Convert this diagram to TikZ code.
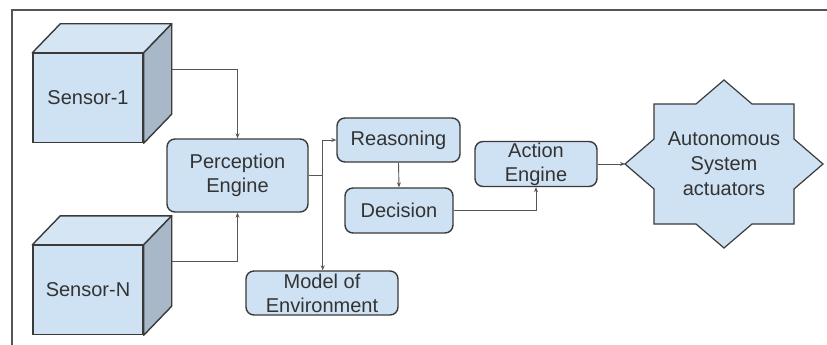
\documentclass[tikz,border=0pt]{standalone}
\usepackage{fontspec}
\setmainfont{Liberation Sans}
\usetikzlibrary{calc,arrows.meta}
\definecolor{boxfill}{HTML}{CFE2F3}
\definecolor{topfill}{HTML}{D6E5F3}
\definecolor{sidefill}{HTML}{A9B8C8}
\definecolor{edge}{HTML}{3A3A3A}
\definecolor{txt}{HTML}{333333}
\definecolor{wire}{HTML}{555555}
\tikzset{
  box/.style={draw=edge, line width=1.4pt, fill=boxfill, rounded corners=8pt,
    text=txt, align=center, inner sep=0pt, font=\fontsize{20}{24}\selectfont},
  front/.style={draw=edge, line width=1.4pt, fill=boxfill, text=txt,
    minimum width=110pt, minimum height=89pt, inner sep=0pt,
    font=\fontsize{20}{24}\selectfont},
  face/.style={draw=edge, line width=1.4pt, line join=round},
  conn/.style={draw=wire, line width=0.9pt, -{Stealth[length=5pt,width=4pt]}},
  plain/.style={draw=wire, line width=0.9pt}
}
\begin{document}
\begin{tikzpicture}[x=1pt,y=-1pt]
\useasboundingbox (0,0) rectangle (827,345);
\fill[white] (0,0) rectangle (827,345);
% frame
\draw[draw=wire, line width=1.2pt] (12,345) -- (12,10) -- (827,10);

% cubes
\node[front] (s1) at (88,98) {Sensor-1};
\node[front] (sN) at (88,290) {Sensor-N};
\foreach \c in {s1,sN}{
  \draw[face, fill=topfill] (\c.north west) -- ++(28,-29) -- ($(\c.north east)+(28,-29)$) -- (\c.north east) -- cycle;
  \draw[face, fill=sidefill] (\c.north east) -- ++(28,-29) -- ($(\c.south east)+(28,-29)$) -- (\c.south east) -- cycle;
}

% boxes
\node[box, minimum width=141pt, minimum height=73pt] (pe) at (237.5,175.5) {Perception\\Engine};
\node[box, minimum width=123pt, minimum height=44pt] (re) at (398.5,140) {Reasoning};
\node[box, minimum width=108pt, minimum height=45pt] (de) at (399,210.5) {Decision};
\node[box, minimum width=152pt, minimum height=44pt] (me) at (322,293) {Model of\\Environment};
\node[box, minimum width=122pt, minimum height=45pt] (ae) at (536,164) {Action\\Engine};

% star
\draw[draw=edge, line width=1.2pt, fill=boxfill, line join=miter, shift={(724,164)}]
  (-99,0) -- (-70,-25) -- (-70,-60) -- (-28,-60) -- (0,-84) -- (28,-60) -- (70,-60) -- (70,-25)
  -- (99,0) -- (70,25) -- (70,60) -- (28,60) -- (0,84) -- (-28,60) -- (-70,60) -- (-70,25) -- cycle;
\node[text=txt, align=center, font=\fontsize{20}{25}\selectfont] (st) at (724,164) {Autonomous\\System\\actuators};
\coordinate (tip) at (625,164);

% connectors
\draw[conn] ($(s1.east)+(28,-29)$) -| (pe.north);
\draw[conn] ($(sN.east)+(28,-29)$) -| (pe.south);
\coordinate (j) at ($(pe.east)+(14,0)$);
\draw[plain] (pe.east) -- (j);
\draw[conn] (j) |- (re.west);
\draw[conn] (j) -- (j |- me.north);
\draw[conn] (re.south) -- (de.north);
\draw[conn] (de.east) -| (ae.south);
\draw[conn] (ae.east) -- (tip);
\end{tikzpicture}
\end{document}
